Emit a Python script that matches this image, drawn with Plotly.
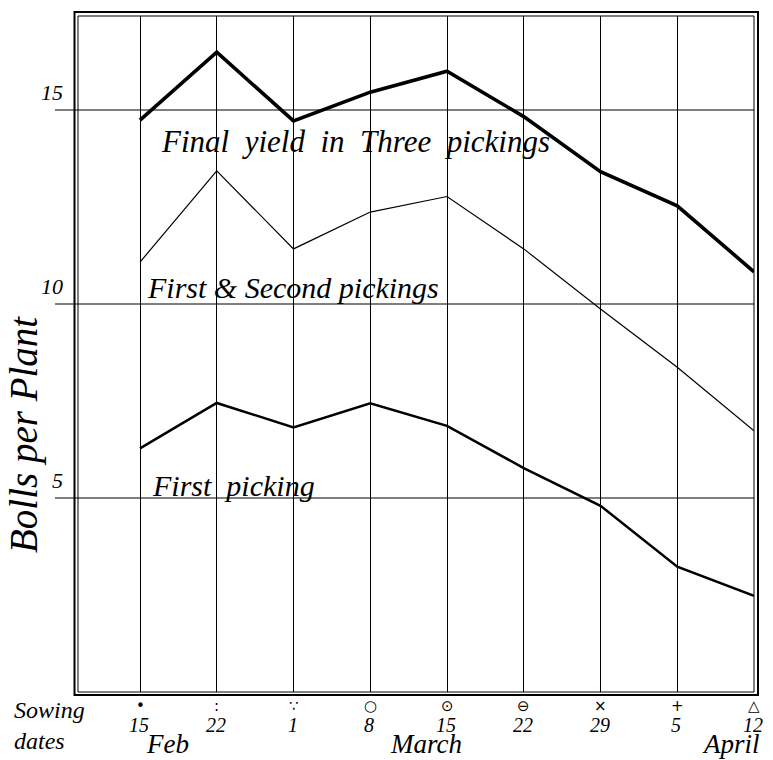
import plotly.graph_objects as go

# Sowing dates (one vertical rule per date) and their printed symbols
sow_days = ["15", "22", "1", "8", "15", "22", "29", "5", "12"]
sow_symbols = ["•", ":", "∵", "○", "⊙", "⊖", "×", "+", "△"]
months = ["Feb", "March", "April"]

# Bolls per plant for each sowing date
final_yield = [14.74, 16.49, 14.72, 15.46, 16.00, 14.83, 13.41, 12.53, 10.83]
first_second = [11.08, 13.43, 11.42, 12.37, 12.77, 11.42, 9.87, 8.37, 6.73]
first_picking = [6.28, 7.45, 6.82, 7.44, 6.86, 5.77, 4.80, 3.23, 2.48]

y_ticks = [5, 10, 15]
y_tick_text = ["5", "10", "15"]

W, H = 773, 760
L, R, T, B = 78, 754, 16, 692          # plot-area edges in pixels
X_STEP = (R - 140) / 8                  # pixel spacing of the date rules
X_MIN = -(140 - L) / X_STEP
Y_PX = 38.8                             # pixels per boll
Y_MAX = (B - T) / Y_PX

SERIF = "Liberation Serif"


def px(x):
    return (x - L) / (R - L)


def py(y):
    return (B - y) / (B - T)


xs = list(range(len(sow_days)))

fig = go.Figure()
for vals, width in [(final_yield, 3.6), (first_second, 1.2), (first_picking, 2.5)]:
    fig.add_trace(go.Scatter(
        x=xs, y=vals, mode="lines",
        line=dict(color="black", width=width),
        hoverinfo="skip", showlegend=False,
    ))

shapes = []
# horizontal rules, running out past the frame on the left
for v in y_ticks:
    shapes.append(dict(type="line", xref="paper", yref="y",
                       x0=px(55), x1=1, y0=v, y1=v,
                       line=dict(color="black", width=1.2)))
# double frame: thin inner, heavier outer
shapes.append(dict(type="rect", xref="paper", yref="paper",
                   x0=0, x1=1, y0=0, y1=1,
                   line=dict(color="black", width=1)))
shapes.append(dict(type="rect", xref="paper", yref="paper",
                   x0=px(74.5), x1=px(758), y0=py(695), y1=py(12),
                   line=dict(color="black", width=2)))

ann = []
# y tick labels sitting just above each rule
for v, t in zip(y_ticks, y_tick_text):
    ann.append(dict(text=f"<i>{t}</i>", xref="paper", yref="y",
                    x=px(64), y=v, xanchor="right", yanchor="bottom",
                    yshift=4, showarrow=False, borderpad=0,
                    font=dict(family=SERIF, size=22, color="black")))

# date symbol over the day number under each rule
for i, (d, s) in enumerate(zip(sow_days, sow_symbols)):
    ann.append(dict(text=s, xref="x", yref="paper", x=i, y=py(706),
                    xanchor="center", yanchor="middle", showarrow=False,
                    borderpad=0,
                    font=dict(family="DejaVu Sans", size=15, color="black")))
    ann.append(dict(text=f"<i>{d}</i>", xref="x", yref="paper", x=i, y=py(725),
                    xanchor="center", yanchor="middle", showarrow=False,
                    xshift=-1, borderpad=0,
                    font=dict(family=SERIF, size=20, color="black")))

for name, cx, cy in zip(months, [167, 426, 731], [744, 744, 744]):
    ann.append(dict(text=f"<i>{name}</i>", xref="paper", yref="paper",
                    x=px(cx), y=py(cy), xanchor="center", yanchor="middle",
                    showarrow=False, borderpad=0,
                    font=dict(family=SERIF, size=27, color="black")))

ann.append(dict(text="<i>Sowing<br>dates</i>", xref="paper", yref="paper",
                x=px(49), y=py(725), xanchor="center", yanchor="middle",
                showarrow=False, align="left", borderpad=0,
                font=dict(family=SERIF, size=24, color="black")))

ann.append(dict(text="<i>Bolls per Plant</i>", xref="paper", yref="paper",
                x=px(24), y=py(435), xanchor="center", yanchor="middle",
                textangle=-90, showarrow=False, borderpad=0,
                font=dict(family=SERIF, size=39, color="black")))

# curve names
for text, lx, cy, size in [
    ("Final  yield  in  Three  pickings", 160, 142, 31),
    ("First & Second pickings", 146, 288, 30),
    ("First  picking", 151, 485, 30),
]:
    ann.append(dict(text=f"<i>{text}</i>", xref="paper", yref="paper",
                    x=px(lx), y=py(cy), xanchor="left", yanchor="middle",
                    showarrow=False, borderpad=0,
                    font=dict(family=SERIF, size=size, color="black")))

fig.update_layout(
    width=W, height=H,
    margin=dict(l=L, r=W - R, t=T, b=H - B),
    paper_bgcolor="white", plot_bgcolor="white",
    shapes=shapes, annotations=ann,
    xaxis=dict(range=[X_MIN, 8], tickvals=xs, showticklabels=False,
               showgrid=True, gridcolor="black", gridwidth=1.2,
               zeroline=False, showline=False, ticks=""),
    yaxis=dict(range=[0, Y_MAX], showgrid=False, showticklabels=False,
               zeroline=False, showline=False, ticks=""),
)

fig.write_html("out.html")
